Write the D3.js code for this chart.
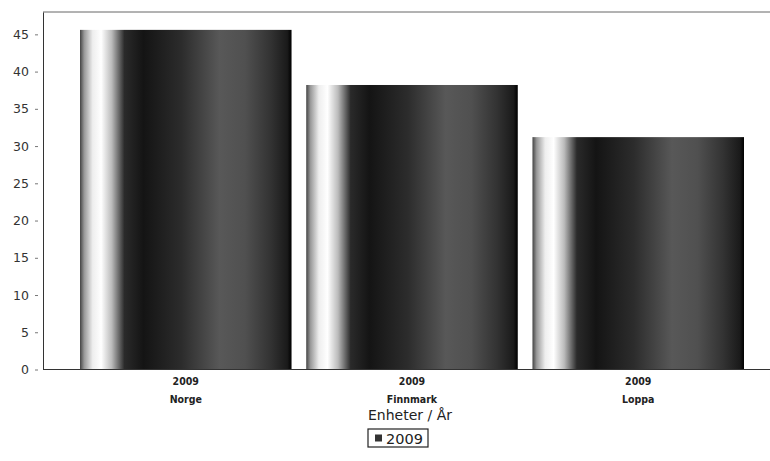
<!DOCTYPE html>
<html>
<head>
<meta charset="utf-8">
<script src="https://d3js.org/d3.v7.min.js"></script>
<style>
  body { margin: 0; background: #fff; }
  svg text { font-family: "DejaVu Sans", sans-serif; }
</style>
</head>
<body>
<div id="chart"></div>
<script>
const years = ["2009", "2009", "2009"];
const regions = ["Norge", "Finnmark", "Loppa"];
const values = [45.6, 38.2, 31.2];
const yTicks = [0, 5, 10, 15, 20, 25, 30, 35, 40, 45];
const legendLabel = "2009";
const axisTitle = "Enheter / År";

const w = 770, h = 461;
const plotLeft = 43, plotTop = 12, plotBottom = 369.5, plotRight = 770;

const svg = d3.select("#chart").append("svg")
  .attr("width", w)
  .attr("height", h);

// bar shading, left highlight then dark band
const grad = svg.append("defs").append("linearGradient")
  .attr("id", "barGrad")
  .attr("x1", "0%").attr("x2", "100%").attr("y1", "0%").attr("y2", "0%");
[[0, "#444"], [0.02, "#999"], [0.06, "#eee"], [0.1, "#fff"], [0.15, "#bbb"],
 [0.21, "#2a2a2a"], [0.3, "#141414"], [0.48, "#2c2c2c"], [0.66, "#585858"], [0.78, "#505050"],
 [0.9, "#333"], [0.98, "#1a1a1a"], [1, "#000"]]
  .forEach(s => grad.append("stop").attr("offset", s[0]).attr("stop-color", s[1]));

const x = d3.scaleBand()
  .domain(regions)
  .range([80, 744])
  .paddingInner(0.065)
  .paddingOuter(0);

const y = d3.scaleLinear()
  .domain([0, 48])
  .range([plotBottom, plotTop]);

// top border
svg.append("line")
  .attr("x1", plotLeft).attr("x2", plotRight)
  .attr("y1", plotTop).attr("y2", plotTop)
  .attr("stroke", "#666").attr("stroke-width", 1);

svg.selectAll("rect.bar")
  .data(values)
  .enter()
  .append("rect")
  .attr("class", "bar")
  .attr("x", (d, i) => x(regions[i]))
  .attr("y", d => y(d))
  .attr("width", x.bandwidth())
  .attr("height", d => y(0) - y(d))
  .attr("fill", "url(#barGrad)");

// y axis
const yAxis = svg.append("g")
  .attr("transform", "translate(" + plotLeft + ",0)")
  .call(d3.axisLeft(y).tickValues(yTicks).tickSize(0).tickPadding(14));
yAxis.select(".domain").attr("stroke", "#333");
yAxis.selectAll(".tick text")
  .attr("font-size", 12.5)
  .attr("fill", "#333")
  .style("font-family", "DejaVu Sans, sans-serif");
yAxis.selectAll(".tick").append("line")
  .attr("x1", -8).attr("x2", -5)
  .attr("stroke", "#777");

// x axis line
svg.append("line")
  .attr("x1", plotLeft).attr("x2", plotRight)
  .attr("y1", plotBottom).attr("y2", plotBottom)
  .attr("stroke", "#333");

// category labels
const cats = svg.selectAll("g.cat")
  .data(regions)
  .enter()
  .append("g")
  .attr("class", "cat")
  .attr("transform", d => "translate(" + (x(d) + x.bandwidth() / 2) + ",0)");
cats.append("text")
  .attr("y", 385)
  .attr("text-anchor", "middle")
  .attr("font-size", 10.5)
  .attr("font-weight", "bold")
  .style("font-family", "DejaVu Sans Condensed, DejaVu Sans, sans-serif")
  .attr("fill", "#222")
  .text((d, i) => years[i]);
cats.append("text")
  .attr("y", 403)
  .attr("text-anchor", "middle")
  .attr("font-size", 10.5)
  .attr("font-weight", "bold")
  .style("font-family", "DejaVu Sans Condensed, DejaVu Sans, sans-serif")
  .attr("fill", "#222")
  .text(d => d);

// axis title
svg.append("text")
  .attr("x", 410)
  .attr("y", 420)
  .attr("text-anchor", "middle")
  .attr("font-size", 14)
  .attr("fill", "#222")
  .text(axisTitle);

// legend
const lg = svg.append("g").attr("transform", "translate(368,429)");
lg.append("rect")
  .attr("width", 60).attr("height", 18)
  .attr("fill", "#fff").attr("stroke", "#222").attr("stroke-width", 1.2);
lg.append("rect")
  .attr("x", 7).attr("y", 5.5)
  .attr("width", 7).attr("height", 7)
  .attr("fill", "#333");
lg.append("text")
  .attr("x", 18).attr("y", 14.5)
  .attr("font-size", 14.5)
  .attr("fill", "#222")
  .text(legendLabel);
</script>
</body>
</html>
